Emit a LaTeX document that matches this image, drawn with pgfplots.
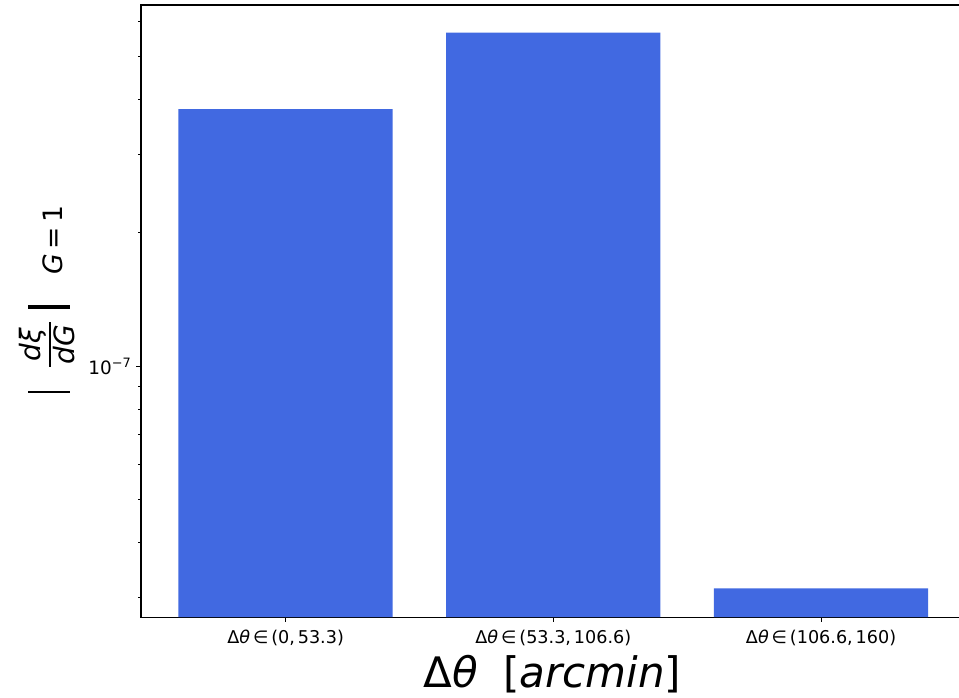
\documentclass[border=0pt]{standalone}
\usepackage{fontspec}
\setmainfont{DejaVu Sans}
\usepackage{pgfplots}
\pgfplotsset{compat=1.18}
\definecolor{royalblue}{HTML}{4169E1}
\begin{document}
\begin{tikzpicture}
\begin{axis}[
  at={(0,0)}, anchor=south west,
  scale only axis, width=618.5pt, height=459pt,
  xmin=-0.54, xmax=2.54,
  ymode=log, ymin=2.713e-8, ymax=6.53e-7,
  log origin=infty,
  ybar, bar width=0.8,
  axis line style={line width=0.8pt},
  tick pos=left, tick align=outside,
  major tick length=3.65pt, minor tick length=2.1pt,
  every tick/.style={black, line width=0.6pt},
  xtick={0,1,2},
  xticklabels={{Δ\textit{θ}\,∈\,(0,\,53.3)}, {Δ\textit{θ}\,∈\,(53.3,\,106.6)}, {Δ\textit{θ}\,∈\,(106.6,\,160)}},
  xticklabel style={font=\fontsize{13.2}{15}\selectfont, yshift=-2.5pt},
  ytick={1e-7},
  yticklabels={10\textsuperscript{−7}},
  minor ytick={3e-8,4e-8,5e-8,6e-8,7e-8,8e-8,9e-8,2e-7,3e-7,4e-7,5e-7,6e-7},
  yticklabel style={font=\fontsize{13.8}{15}\selectfont},
]
\addplot[fill=royalblue, draw=none] coordinates {(0,3.80e-7) (1,5.655e-7) (2,3.148e-8)};
\end{axis}
\node[anchor=base, font=\fontsize{31.5}{38}\selectfont] at (308.6pt,-53pt) {Δ\textit{θ}\hspace{0.6em}[\textit{arcmin}]};
% y label built in rotated local coordinates (t along text, v up in text)
\begin{scope}[shift={(-58.5pt,168.75pt)}, rotate=90, transform shape]
  \fill (-1.1pt,-5.25pt) rectangle (1.1pt,26.25pt);
  \fill (62.6pt,-5.25pt) rectangle (64.9pt,26.25pt);
  \fill (18.75pt,9.3pt) rectangle (52.5pt,10.3pt);
  \node[anchor=south, inner sep=0pt, font=\fontsize{21}{24}\selectfont\itshape] at (35.6pt,12.5pt) {dξ};
  \node[anchor=north, inner sep=0pt, font=\fontsize{21}{24}\selectfont\itshape] at (35.6pt,7.5pt) {dG};
  \node[anchor=base west, inner sep=0pt, font=\fontsize{20}{24}\selectfont] at (87.75pt,0pt) {\textit{G}\,=\,1};
\end{scope}
\pgfresetboundingbox
\useasboundingbox (-105.75pt,-60.75pt) rectangle (613.5pt,462.75pt);
\end{tikzpicture}
\end{document}
